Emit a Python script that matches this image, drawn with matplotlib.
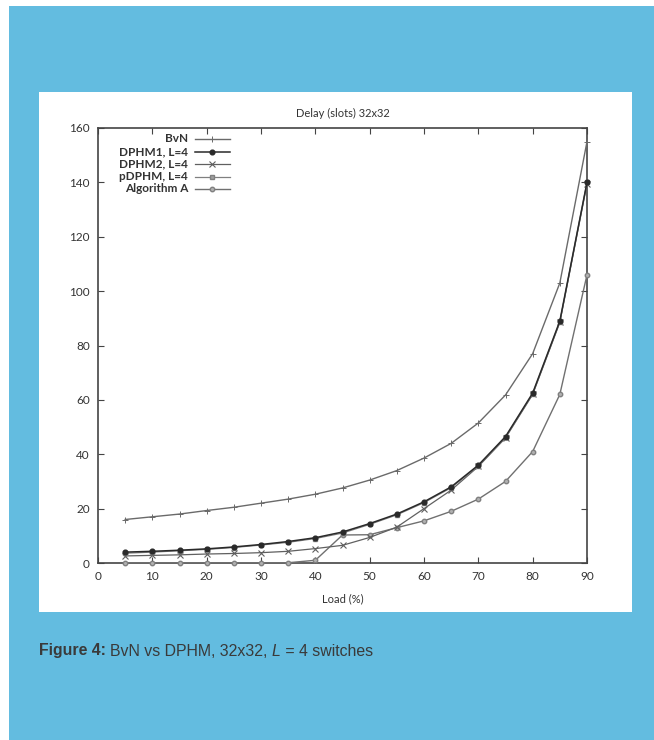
import matplotlib
matplotlib.use("Agg")
import matplotlib.pyplot as plt
from matplotlib.patches import Rectangle
from matplotlib.lines import Line2D

# ---------------- data ----------------
load = [5, 10, 15, 20, 25, 30, 35, 40, 45, 50, 55, 60, 65, 70, 75, 80, 85, 90]
bvn = [16, 17, 18, 19.3, 20.5, 22, 23.5, 25.3, 27.6, 30.5, 34, 38.6, 44, 51.5, 61.8, 77, 103, 155]
dphm1 = [4, 4.3, 4.7, 5.2, 5.9, 6.8, 7.9, 9.3, 11.4, 14.5, 18, 22.5, 28, 36, 46.5, 62.5, 89, 140]
dphm2 = [2.6, 2.8, 3.0, 3.3, 3.5, 3.8, 4.3, 5.3, 6.5, 9.4, 13.2, 20, 26.8, 35.5, 46, 62, 88.5, 139.5]
pdphm = [3.6, 4.0, 4.5, 5.0, 5.7, 6.6, 7.6, 9.0, 11.0, 14.2, 17.7, 22.2, 27.7, 35.7, 46.2, 62.2, 88.7, 140]
alga = [0.1, 0.1, 0.1, 0.1, 0.1, 0.1, 0.1, 1.0, 10.3, 10.4, 13, 15.5, 19, 23.5, 30, 41, 62, 106]

series_labels = ["BvN", "DPHM1, L=4", "DPHM2, L=4", "pDPHM, L=4", "Algorithm A"]
x_ticks = [0, 10, 20, 30, 40, 50, 60, 70, 80, 90]
y_ticks = [0, 20, 40, 60, 80, 100, 120, 140, 160]
title = "Delay (slots) 32x32"
xlabel = "Load (%)"

W, H = 654, 740
plt.rcParams['font.family'] = ['Lato', 'DejaVu Sans']
fig = plt.figure(figsize=(W / 100, H / 100), dpi=100, facecolor="white")

def fx(px):
    return px / W

def fy(py):
    return 1 - py / H

# blue background and white panel
fig.patches.append(Rectangle((fx(9), 0), 1 - fx(9), fy(6), transform=fig.transFigure,
                             facecolor="#63BCE0", edgecolor="none", zorder=0))
fig.patches.append(Rectangle((fx(39), fy(612)), fx(632) - fx(39), fy(92) - fy(612),
                             transform=fig.transFigure, facecolor="white",
                             edgecolor="none", zorder=1))

ax = fig.add_axes([fx(98), fy(563), fx(587) - fx(98), fy(128) - fy(563)])
ax.set_facecolor("none")
ax.set_zorder(2)

styles = [
    dict(color="#6a6a6a", lw=1.0, marker="+", ms=4, mew=0.7),
    dict(color="#2a2a2a", lw=1.1, marker="o", ms=3.4, mfc="#2a2a2a", mec="#2a2a2a"),
    dict(color="#606060", lw=0.9, marker="x", ms=4.2, mew=0.8),
    dict(color="#808080", lw=0.9, marker="s", ms=3.2, mfc="#a0a0a0", mec="#808080"),
    dict(color="#707070", lw=1.0, marker="o", ms=3.2, mfc="#b0b0b0", mec="#808080"),
]
data = [bvn, dphm1, dphm2, pdphm, alga]
order = [0, 4, 2, 3, 1]
for i in order:
    ax.plot(load, data[i], zorder=3 + (i == 1), clip_on=False, **styles[i])

ax.set_xlim(0, 90)
ax.set_ylim(0, 160)
ax.set_xticks(x_ticks)
ax.set_yticks(y_ticks)
ax.tick_params(direction="in", length=4, width=0.8, color="#444444",
               top=True, right=True, labelsize=8.5, labelcolor="#333333")
ax.tick_params(axis="x", pad=6)
ax.tick_params(axis="y", pad=6)
for s in ax.spines.values():
    s.set_linewidth(1.2)
    s.set_color("#444444")

ax.set_title(title, fontsize=8, color="#333333", pad=8)
ax.set_xlabel(xlabel, fontsize=8, color="#333333", labelpad=8)

# legend (gnuplot style: right-aligned labels, sample to the right)
row_y = [139, 151.5, 164, 176.5, 189]
for i, lab in enumerate(series_labels):
    ya = (563 - row_y[i]) / 435
    ax.text((188 - 98) / 489, ya, lab, transform=ax.transAxes, ha="right", va="center",
            fontsize=8.5, color="#333333", fontweight="bold")
    ln = Line2D([(195 - 98) / 489, (212 - 98) / 489, (230 - 98) / 489], [ya, ya, ya],
                transform=ax.transAxes, markevery=[1], **styles[i])
    ax.add_line(ln)

# caption
fig.canvas.draw()
renderer = fig.canvas.get_renderer()
pieces = [("Figure 4: ", "bold", "normal"), ("BvN vs DPHM, 32x32, ", "normal", "normal"),
          ("L", "normal", "italic"), (" = 4 switches", "normal", "normal")]
xpos = fx(39)
for txt, wt, sty in pieces:
    t = fig.text(xpos, fy(651), txt, fontsize=11.4, fontweight=wt, fontstyle=sty,
                 family=["Liberation Sans", "DejaVu Sans"], color="#3a3a3a",
                 va="center", ha="left", zorder=5)
    bb = t.get_window_extent(renderer)
    xpos += bb.width / W

fig.savefig("out.png", dpi=100, facecolor="white")
